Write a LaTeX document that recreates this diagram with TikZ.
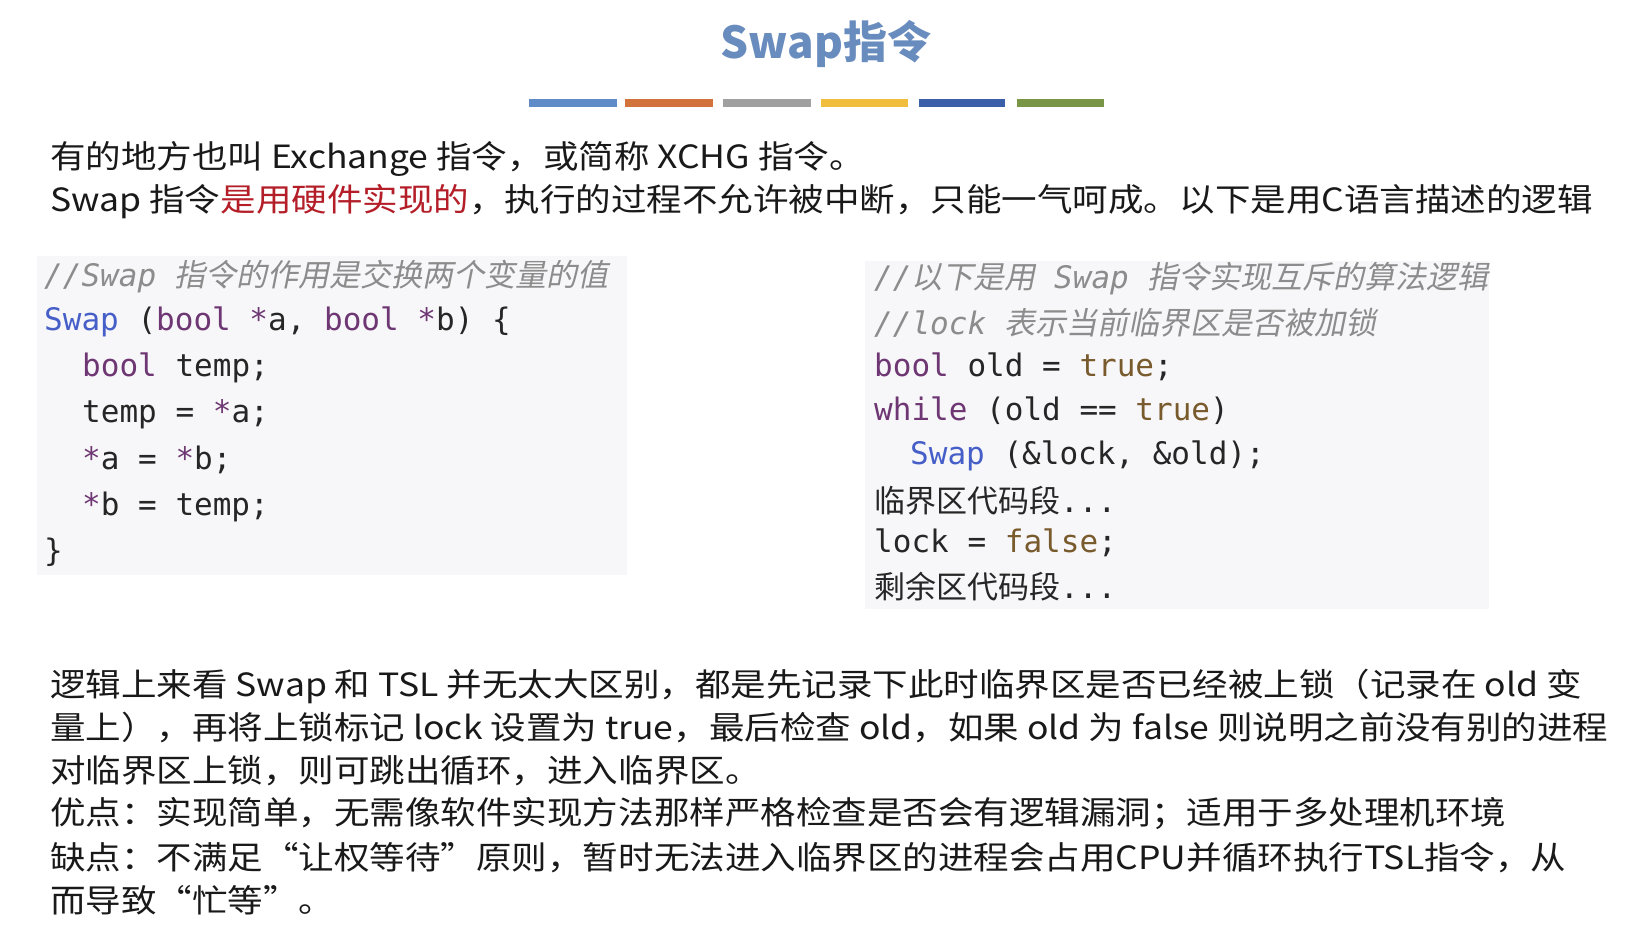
\documentclass[tikz,border=0pt]{standalone}
\usepackage{fontspec}
\setmainfont[FakeStretch=1.11]{Noto Sans CJK SC}
\newfontfamily\titlefont{Noto Sans CJK SC}
\newfontfamily\cjk{Noto Sans CJK SC}
\newfontfamily\cjki[FakeSlant=0.2]{Noto Sans CJK SC}
\newfontfamily\mono{DejaVu Sans Mono}
\newfontfamily\monoi{DejaVu Sans Mono Oblique}
\definecolor{ttl}{RGB}{105,140,190}
\definecolor{kw}{RGB}{110,55,115}
\definecolor{fn}{RGB}{70,95,200}
\definecolor{lit}{RGB}{120,90,45}
\definecolor{cmt}{RGB}{140,140,140}
\definecolor{codebg}{RGB}{247,247,249}
\definecolor{red1}{RGB}{180,30,40}
\definecolor{b1}{RGB}{95,140,200}\definecolor{b2}{RGB}{210,115,60}\definecolor{b3}{RGB}{160,160,160}
\definecolor{b4}{RGB}{240,190,60}\definecolor{b5}{RGB}{60,95,170}\definecolor{b6}{RGB}{120,150,70}
\begin{document}
\begin{tikzpicture}[x=1pt,y=-1pt,
  txt/.style={anchor=west,inner sep=0pt,font=\fontsize{32}{34}\selectfont,text=black!90},
  code/.style={anchor=west,inner sep=0pt,font=\fontsize{31}{33}\mono,text=black!85},
  bar/.style={line width=8pt}]
\useasboundingbox (0,0) rectangle (1631,939);
\fill[white] (0,0) rectangle (1631,939);
\node[inner sep=0pt,font=\fontsize{44}{46}\titlefont\bfseries,text=ttl] (title) at (826,44) {Swap指令};
\foreach \a/\b/\c [count=\i] in {529/617/b1,625/713/b2,723/811/b3,821/908/b4,919/1005/b5,1017/1104/b6}
  \draw[bar,\c] (\a,103) -- (\b,103);
\node[txt] (l1) at (50,159) {有的地方也叫 Exchange 指令，或简称 XCHG 指令。};
\node[txt] (l2) at (50,202) {Swap 指令{\color{red1}是用硬件实现的}，执行的过程不允许被中断，只能一气呵成。以下是用C语言描述的逻辑};
% left code
\fill[codebg] (37,256) rectangle (627,575);
\node[code,text=cmt] (c1) at (44,277) {\monoi//Swap {\cjki 指令的作用是交换两个变量的值}};
\node[code] (c2) at (44,322) {\color{fn}Swap \color{black!85}(\color{kw}bool *\color{black!85}a, \color{kw}bool *\color{black!85}b) \{};
\node[code] (c3) at (82,368) {\color{kw}bool \color{black!85}temp;};
\node[code] (c4) at (82,414) {temp = {\color{kw}*}a;};
\node[code] (c5) at (82,460) {{\color{kw}*}a = {\color{kw}*}b;};
\node[code] (c6) at (82,507) {{\color{kw}*}b = temp;};
\node[code] (c7) at (44,552) {\}};
% right code
\fill[codebg] (865,261) rectangle (1489,609);
\node[code,text=cmt] (d1) at (874,279) {\monoi//{\cjki 以下是用} Swap {\cjki 指令实现互斥的算法逻辑}};
\node[code,text=cmt] (d2) at (874,323) {\monoi//lock {\cjki 表示当前临界区是否被加锁}};
\node[code] (d3) at (874,367) {{\color{kw}bool} old = {\color{lit}true};};
\node[code] (d4) at (874,411) {{\color{kw}while} (old == {\color{lit}true})};
\node[code] (d5) at (910,456) {{\color{fn}Swap} (\&lock, \&old);};
\node[code] (d6) at (874,501) {{\cjk 临界区代码段}...};
\node[code] (d7) at (874,543) {lock = {\color{lit}false};};
\node[code] (d8) at (874,587) {{\cjk 剩余区代码段}...};
% bottom
\node[txt] (p1) at (50,686) {逻辑上来看 Swap 和 TSL 并无太大区别，都是先记录下此时临界区是否已经被上锁（记录在 old 变};
\node[txt] (p2) at (50,728) {量上），再将上锁标记 lock 设置为 true，最后检查 old，如果 old 为 false 则说明之前没有别的进程};
\node[txt] (p3) at (50,771) {对临界区上锁，则可跳出循环，进入临界区。};
\node[txt] (p4) at (50,814) {优点：实现简单，无需像软件实现方法那样严格检查是否会有逻辑漏洞；适用于多处理机环境};
\node[txt] (p5) at (50,858) {缺点：不满足“让权等待”原则，暂时无法进入临界区的进程会占用CPU并循环执行TSL指令，从};
\node[txt] (p6) at (50,900) {而导致“忙等”。};
\end{tikzpicture}
\end{document}
